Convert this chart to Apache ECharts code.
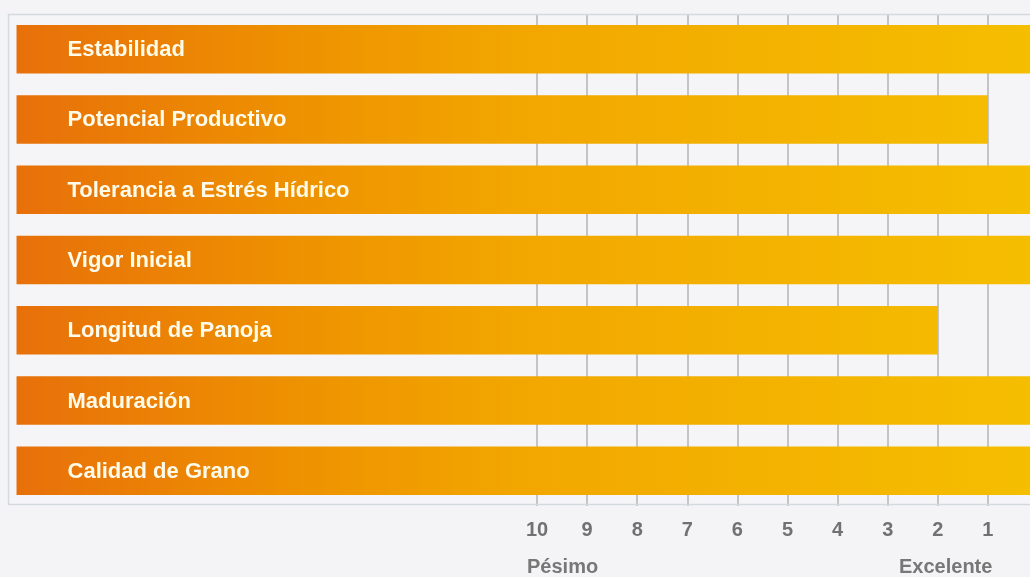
<!DOCTYPE html>
<html>
<head>
<meta charset="utf-8">
<script src="https://cdn.jsdelivr.net/npm/echarts@6/dist/echarts.min.js"></script>
<style>
  html, body { margin: 0; padding: 0; background: #f4f4f6; }
  #chart { width: 1030px; height: 577px; }
</style>
</head>
<body>
<div id="chart"></div>
<script>
// ratings, 10 = Pésimo ... 1 = Excelente (0 = off the scale on the right)
const categories = [
  'Estabilidad',
  'Potencial Productivo',
  'Tolerancia a Estrés Hídrico',
  'Vigor Inicial',
  'Longitud de Panoja',
  'Maduración',
  'Calidad de Grano'
];
const scores = [0, 1, 0, 0, 2, 0, 0];
const tickValues = [1, 2, 3, 4, 5, 6, 7, 8, 9, 10];
const scaleEnds = ['Pésimo', 'Excelente'];

const X_MIN = 0.16;
const X_MAX = 20.56;
const BAR_START = 20.39; // bars begin a little inside the frame

const chart = echarts.init(document.getElementById('chart'));

const barFill = new echarts.graphic.LinearGradient(17, 0, 1030, 0, [
  { offset: 0, color: '#e8700a' },
  { offset: 0.27, color: '#ee9100' },
  { offset: 0.5, color: '#f2a700' },
  { offset: 1, color: '#f5be00' }
], true);

function renderBar(params, api) {
  const idx = api.value(1);
  const start = api.coord([BAR_START, idx]);
  const end = api.coord([api.value(0), idx]);
  const h = api.size([0, 1])[1] * 0.69;
  return {
    type: 'group',
    children: [{
      type: 'rect',
      shape: { x: start[0], y: start[1] - h / 2, width: end[0] - start[0], height: h },
      style: { fill: barFill }
    }, {
      type: 'text',
      x: start[0] + 51,
      y: start[1] + 1,
      style: {
        text: categories[idx],
        fill: '#fffbeb',
        font: 'bold 22px "Liberation Sans", Arial, sans-serif',
        verticalAlign: 'middle',
        align: 'left'
      }
    }]
  };
}

chart.setOption({
  backgroundColor: '#f4f4f6',
  animation: false,
  grid: {
    left: 8,
    right: 0,
    top: 14,
    bottom: 71,
    show: true,
    backgroundColor: '#f5f5f7',
    borderWidth: 0
  },
  xAxis: {
    type: 'value',
    inverse: true,
    min: X_MIN,
    max: X_MAX,
    axisLine: { show: false },
    axisTick: { show: false, customValues: tickValues },
    axisLabel: {
      customValues: tickValues,
      color: '#717171',
      fontSize: 20,
      fontWeight: 'bold',
      fontFamily: 'Liberation Sans, Arial, sans-serif',
      margin: 14
    },
    splitLine: { show: true, lineStyle: { color: '#b3b3b3', width: 1.5 } }
  },
  yAxis: {
    type: 'category',
    inverse: true,
    data: categories,
    axisLine: { show: false },
    axisTick: { show: false },
    axisLabel: { show: false },
    splitLine: { show: false }
  },
  graphic: [{
    type: 'rect',
    shape: { x: 8.5, y: 14.5, width: 1040, height: 490 },
    style: { fill: 'none', stroke: '#d3d9dd', lineWidth: 1.5 },
    z: 10
  }, {
    type: 'text',
    left: 527,
    top: 557,
    style: {
      text: scaleEnds[0],
      fill: '#777777',
      font: 'bold 20px "Liberation Sans", Arial, sans-serif'
    }
  }, {
    type: 'text',
    left: 899,
    top: 557,
    style: {
      text: scaleEnds[1],
      fill: '#777777',
      font: 'bold 20px "Liberation Sans", Arial, sans-serif'
    }
  }],
  series: [{
    type: 'custom',
    renderItem: renderBar,
    clip: false,
    encode: { x: 0, y: 1 },
    data: scores.map((s, i) => [s, i])
  }]
});
</script>
</body>
</html>
